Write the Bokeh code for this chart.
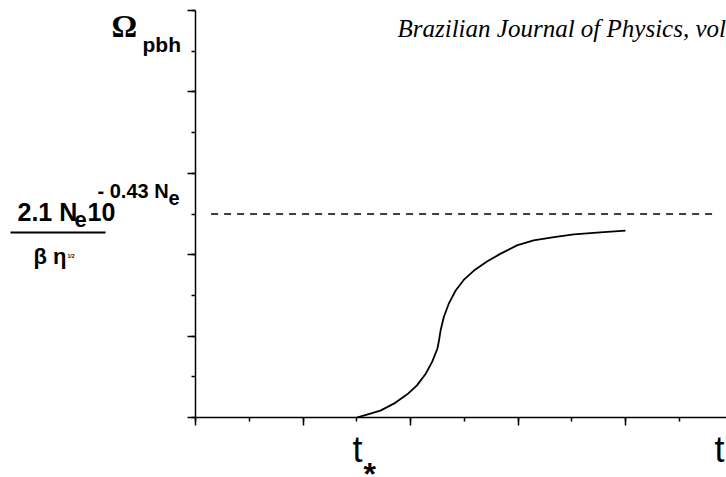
from bokeh.plotting import figure
from bokeh.models import Range1d, SingleIntervalTicker, Label, Arrow, CustomJSTickFormatter
from bokeh.embed import file_html
from bokeh.resources import INLINE

# ---- data ----
t_vals = [3.0, 3.19, 3.44, 3.69, 3.94, 4.12, 4.28, 4.40, 4.50, 4.53, 4.56, 4.62,
          4.71, 4.84, 4.99, 5.18, 5.43, 5.67, 5.98, 6.29, 6.67, 7.04, 7.53, 8.0]
omega_vals = [0.0, 0.07, 0.17, 0.34, 0.57, 0.79, 1.07, 1.36, 1.69, 1.89, 2.14, 2.47,
              2.79, 3.12, 3.38, 3.61, 3.84, 4.02, 4.23, 4.35, 4.43, 4.50, 4.55, 4.59]
asym_t = [0.29, 9.7]
asym_omega = [5.0, 5.0]
x_axis_end = 9.88
y_axis_end = 10.0

# ---- layout constants (page pixels) ----
W, H = 726, 477
OX, OY = 195, 417          # page pixel of the data origin
PX_X, PX_Y = 53.75, 40.7   # pixels per data unit

x_start, x_end = -OX / PX_X, (W - OX) / PX_X
y_start, y_end = -(H - OY) / PX_Y, OY / PX_Y


def dx(px):
    return (px - OX) / PX_X


def dy(py):
    return (OY - py) / PX_Y


p = figure(width=W, height=H, output_backend="svg", toolbar_location=None,
           x_range=Range1d(x_start, x_end), y_range=Range1d(y_start, y_end),
           min_border=0)
p.outline_line_color = None
p.grid.visible = False
p.background_fill_color = "white"
p.border_fill_color = "white"

blank = CustomJSTickFormatter(code="return ''")
for ax, bnd in ((p.xaxis[0], (0, x_axis_end)), (p.yaxis[0], (0, y_axis_end))):
    ax.fixed_location = 0
    ax.bounds = bnd
    ax.ticker = SingleIntervalTicker(interval=2, num_minor_ticks=2)
    ax.formatter = blank
    ax.axis_line_color = "black"
    ax.axis_line_width = 1.5
    ax.major_tick_line_color = "black"
    ax.major_tick_line_width = 1.5
    ax.minor_tick_line_color = "black"
    ax.minor_tick_line_width = 1.5
    ax.major_tick_in = 0
    ax.major_tick_out = 8
    ax.minor_tick_in = 0
    ax.minor_tick_out = 4

# asymptote and curve
p.line(asym_t, asym_omega, line_color="black", line_width=1.3, line_dash="7 6")
p.line(t_vals, omega_vals, line_color="black", line_width=1.8, line_join="round")

sans = "Liberation Sans"
serif = "Liberation Serif"
BASE_SHIFT = 0.36  # observed offset of rendered baseline, in em


def lab(text, px, py, size, font=sans, style="normal"):
    p.add_layout(Label(x=dx(px), y=dy(py - BASE_SHIFT * size), text=text,
                       text_font=font, text_font_size=f"{size}px",
                       text_font_style=style, text_color="black",
                       text_align="left", text_baseline="alphabetic"))


# y-axis title: Omega_pbh
lab("Ω", 111, 37, 32, font=serif, style="bold")
lab("pbh", 142, 52, 21, style="bold")

# asymptote value label
lab("2.1 N", 17, 220, 25, style="bold")
lab("e", 74, 227, 22, style="bold")
lab("10", 87, 220, 25, style="bold")
lab("- 0.43 N", 97, 198, 20, style="bold")
lab("e", 168, 205, 20, style="bold")
p.add_layout(Arrow(end=None, x_start=dx(10), y_start=dy(232), x_end=dx(105),
                   y_end=dy(232), line_color="black", line_width=2))
lab("β η", 33, 264, 22, style="bold")
lab("1/2", 67, 257, 5, style="bold")

# x-axis labels
lab("t", 352, 462, 36)
lab("*", 363, 485, 32, style="bold")
lab("t", 714, 462, 36)

# journal header
lab("Brazilian Journal of Physics, vol", 397, 37, 25, font=serif, style="italic")

open("out.html", "w").write(file_html(p, INLINE))
